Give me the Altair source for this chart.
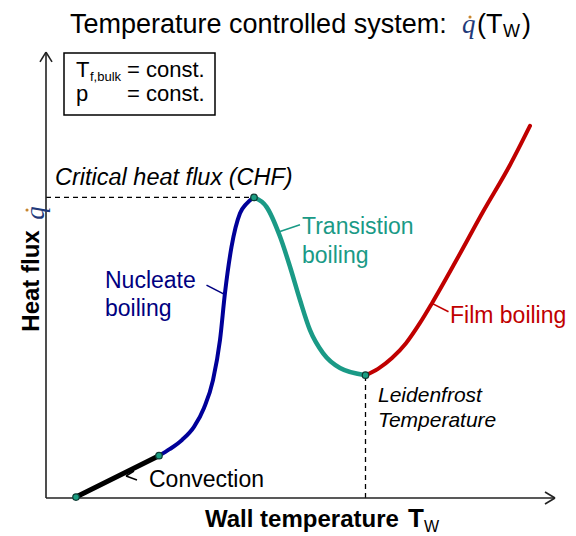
import altair as alt
import pandas as pd

# ---- data (arbitrary units: wall temperature T, heat flux q) ----
conv_T = [6.0, 22.6]
conv_q = [0.2, 9.4]
nuc_T = [22.6, 24.8, 27.2, 29.6, 31.6, 33.4, 34.8, 35.8, 37.1, 38.8, 40.0, 41.6]
nuc_q = [9.4, 10.9, 12.9, 15.8, 20.0, 26.2, 35.1, 45.6, 55.8, 63.3, 65.3, 66.8]
trans_T = [41.6, 44.1, 46.8, 48.8, 50.8, 52.8, 55.4, 58.8, 63.9]
trans_q = [66.8, 64.7, 58.1, 51.4, 44.0, 37.3, 32.2, 28.9, 27.3]
film_T = [63.9, 66.4, 69.2, 72.0, 74.8, 77.2, 82.2, 87.4, 92.8, 96.8]
film_q = [27.3, 28.7, 31.1, 34.4, 38.9, 43.3, 53.1, 63.6, 74.0, 82.7]
key_T = [6.0, 22.6, 41.6, 63.9]
key_q = [0.2, 9.4, 66.8, 27.3]
chf_T, chf_q = 41.6, 66.8
leid_T, leid_q = 63.9, 27.3

# axis frame and leader segments (data units)
seg_x1 = [0, 0, 101.8, 101.8, 0, 0, 32.1, 46.8, 77.1, 16.0, 16.0]
seg_y1 = [0, 0, 0, 0, 99.1, 99.1, 47.3, 59.2, 43.3, 4.9, 4.9]
seg_x2 = [101.8, 0, 99.8, 99.8, -1.2, 1.2, 35.6, 50.8, 80.5, 17.6, 18.2]
seg_y2 = [0, 99.1, 1.33, -1.33, 96.9, 96.9, 45.3, 60.7, 41.4, 6.0, 4.0]
seg_col = ["#222222"] * 6 + ["#000080", "#1A9A86", "#C00000", "#000000", "#000000"]

W, H = 576, 536
xs = alt.Scale(domain=[-9.2, 106.0], nice=False, zero=False)
ys = alt.Scale(domain=[-8.444, 110.667], nice=False, zero=False)


def curve(T, q, color, width):
    df = pd.DataFrame({"T": T, "q": q})
    return alt.Chart(df).mark_line(color=color, strokeWidth=width, interpolate="monotone",
                                   strokeCap="round").encode(
        x=alt.X("T:Q", scale=xs, axis=None), y=alt.Y("q:Q", scale=ys, axis=None))


one = pd.DataFrame({"a": [0]})


def label(txt, x, y, size=22, color="black", weight="normal", style="normal",
          font="Liberation Sans", align="left", angle=0, baseline="alphabetic"):
    return alt.Chart(one).mark_text(text=txt, fontSize=size, color=color, fontWeight=weight,
                                    fontStyle=style, font=font, align=align, angle=angle,
                                    baseline=baseline).encode(x=alt.value(x), y=alt.value(y))


segs = pd.DataFrame({"x1": seg_x1, "y1": seg_y1, "x2": seg_x2, "y2": seg_y2, "c": seg_col})
seg_layer = alt.Chart(segs).mark_rule(strokeWidth=1.6).encode(
    x=alt.X("x1:Q", scale=xs, axis=None), y=alt.Y("y1:Q", scale=ys, axis=None),
    x2="x2:Q", y2="y2:Q", color=alt.Color("c:N", scale=None))

dash_h = alt.Chart(pd.DataFrame({"x1": [0], "x2": [chf_T], "y": [chf_q]})).mark_rule(
    strokeWidth=1.3, strokeDash=[5, 4], color="black").encode(
    x=alt.X("x1:Q", scale=xs, axis=None), x2="x2:Q", y=alt.Y("y:Q", scale=ys, axis=None))
dash_v = alt.Chart(pd.DataFrame({"x": [leid_T], "y1": [0], "y2": [leid_q]})).mark_rule(
    strokeWidth=1.3, strokeDash=[5, 4], color="black").encode(
    x=alt.X("x:Q", scale=xs, axis=None), y=alt.Y("y1:Q", scale=ys, axis=None), y2="y2:Q")

pts = alt.Chart(pd.DataFrame({"T": key_T, "q": key_q})).mark_circle(
    size=42, color="#1B9E82", stroke="#0E3B33", strokeWidth=1.2, opacity=1).encode(
    x=alt.X("T:Q", scale=xs, axis=None), y=alt.Y("q:Q", scale=ys, axis=None))

box = alt.Chart(one).mark_rect(fill="white", stroke="black", strokeWidth=1.5).encode(
    x=alt.value(64), x2=alt.value(215), y=alt.value(53), y2=alt.value(115))

dots = alt.Chart(pd.DataFrame({"x": [470, 27], "y": [17, 210]})).mark_circle(
    size=10, color="#C8862E", opacity=1).encode(
    x=alt.X("x:Q", scale=None), y=alt.Y("y:Q", scale=None))

texts = [
    label("Temperature controlled system:", 70, 33, size=27),
    label("q", 462, 33, size=27, font="Liberation Serif", style="italic", color="#1F3A7A"),
    label("(T", 477, 33, size=27),
    label("W", 503, 37, size=18),
    label(")", 522, 33, size=27),
    label("T", 76, 77, size=22),
    label("f,bulk", 90, 81, size=13),
    label("= const.", 127, 77, size=22),
    label("p", 76, 101, size=22),
    label("= const.", 127, 101, size=22),
    label("Critical heat flux (CHF)", 55, 185, size=23.5, style="italic"),
    label("Nucleate", 105, 288, size=23, color="#000080"),
    label("boiling", 105, 316, size=23, color="#000080"),
    label("Transistion", 302, 234, size=23, color="#1A9A86"),
    label("boiling", 302, 263, size=23, color="#1A9A86"),
    label("Film boiling", 450, 323, size=23, color="#C00000"),
    label("Leidenfrost", 378, 402, size=21, style="italic"),
    label("Temperature", 378, 427, size=21, style="italic"),
    label("Convection", 149, 487, size=23),
    label("Wall temperature", 205, 527, size=24, weight="bold"),
    label("T", 408, 527, size=26, weight="bold"),
    label("W", 424, 532, size=16),
    label("Heat flux", 32, 281, size=24, weight="bold", angle=270, align="center", baseline="middle"),
    label("q", 36, 213, size=27, font="Liberation Serif", style="italic", color="#1F3A7A",
          angle=270, align="center", baseline="middle"),
]

chart = alt.layer(
    dash_h, dash_v, seg_layer,
    curve(conv_T, conv_q, "#000000", 5),
    curve(nuc_T, nuc_q, "#000099", 4),
    curve(trans_T, trans_q, "#1A9A86", 4.5),
    curve(film_T, film_q, "#C00000", 4),
    pts, box, dots, *texts,
).properties(width=W, height=H, padding=0, autosize="none",
             background="white").configure_view(stroke=None)

chart.save("out.html", embed_options={"renderer": "svg", "actions": False})
